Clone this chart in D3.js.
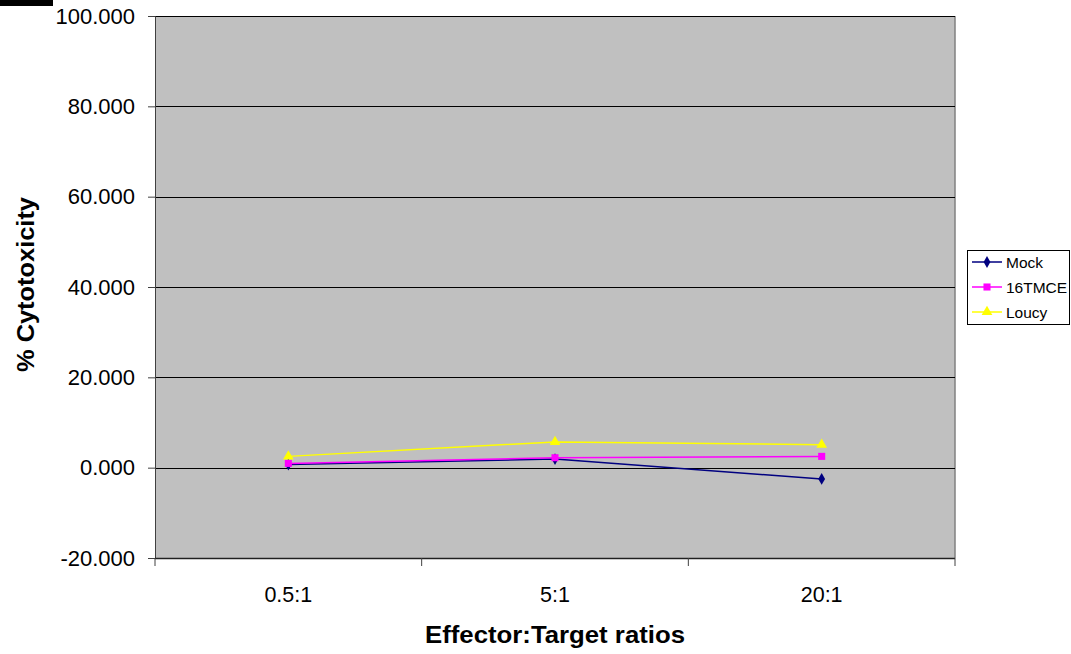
<!DOCTYPE html>
<html>
<head>
<meta charset="utf-8">
<script src="https://cdn.jsdelivr.net/npm/d3@7"></script>
<style>
  html, body { margin: 0; padding: 0; background: #fff; }
  svg { display: block; font-family: "Liberation Sans", Arial, sans-serif; }
</style>
</head>
<body>
<svg id="chart" width="1071" height="654"></svg>
<script>
// Cytotoxicity by effector:target ratio
const categories = ["0.5:1", "5:1", "20:1"];
const mock = [0.7, 1.9, -2.5];
const tmce = [0.95, 2.2, 2.5];
const loucy = [2.5, 5.7, 5.1];
const yTicks = [-20, 0, 20, 40, 60, 80, 100];

const series = [
  { name: "Mock", values: mock, color: "#000080", symbol: d3.symbolDiamond, size: 40 },
  { name: "16TMCE", values: tmce, color: "#ff00ff", symbol: d3.symbolSquare, size: 50 },
  { name: "Loucy", values: loucy, color: "#ffff00", symbol: d3.symbolTriangle, size: 50 }
];

const svg = d3.select("#chart");
const plot = { left: 155, right: 955, top: 16, bottom: 558 };

const x = d3.scaleBand().domain(categories).range([plot.left, plot.right]);
const y = d3.scaleLinear().domain([-20, 100]).range([plot.bottom, plot.top]);

// fixed three decimals, plain hyphen for negatives
const fmt = d => (d < 0 ? "-" : "") + Math.abs(d).toFixed(3);

// small black block in the top-left corner
svg.append("rect").attr("x", 0).attr("y", 0).attr("width", 53).attr("height", 6).attr("fill", "#000");

// plot background
svg.append("rect")
  .attr("x", plot.left).attr("y", plot.top)
  .attr("width", plot.right - plot.left).attr("height", plot.bottom - plot.top)
  .attr("fill", "#c0c0c0");

// right border of plot area
svg.append("line")
  .attr("x1", plot.right).attr("x2", plot.right)
  .attr("y1", plot.top).attr("y2", plot.bottom)
  .attr("stroke", "#808080").attr("stroke-width", 1.5);

// gridlines
svg.append("g").selectAll("line").data(yTicks.filter(d => d > -20)).join("line")
  .attr("x1", plot.left).attr("x2", plot.right)
  .attr("y1", d => Math.round(y(d)) + 0.5).attr("y2", d => Math.round(y(d)) + 0.5)
  .attr("stroke", "#000").attr("stroke-width", 1);

// y axis
const yAxis = svg.append("g")
  .attr("transform", `translate(${plot.left},0)`)
  .call(d3.axisLeft(y).tickValues(yTicks).tickFormat(fmt).tickSize(7).tickPadding(13));
yAxis.select(".domain").attr("stroke", "#404040");
yAxis.selectAll(".tick line").attr("stroke", "#404040");
yAxis.selectAll("text").attr("font-size", 22).attr("fill", "#000")
  .attr("font-family", "'Liberation Sans', Arial, sans-serif");

// x axis with ticks at category boundaries
const xAxisG = svg.append("g").attr("transform", `translate(0,${plot.bottom})`);
xAxisG.append("line")
  .attr("x1", plot.left).attr("x2", plot.right).attr("y1", 0.5).attr("y2", 0.5)
  .attr("stroke", "#202020").attr("stroke-width", 1.5);
const bounds = categories.map(c => x(c)).concat([x(categories[categories.length - 1]) + x.bandwidth()]);
xAxisG.selectAll("line.tk").data(bounds).join("line").attr("class", "tk")
  .attr("x1", d => d).attr("x2", d => d).attr("y1", 0).attr("y2", 8)
  .attr("stroke", "#404040");
xAxisG.selectAll("text").data(categories).join("text")
  .attr("x", d => x(d) + x.bandwidth() / 2).attr("y", 44)
  .attr("text-anchor", "middle").attr("font-size", 21.5).text(d => d);

// axis titles
svg.append("text")
  .attr("x", (plot.left + plot.right) / 2).attr("y", 643)
  .attr("text-anchor", "middle").attr("font-size", 23).attr("font-weight", "bold")
  .attr("textLength", 260).attr("lengthAdjust", "spacingAndGlyphs")
  .text("Effector:Target ratios");
svg.append("text")
  .attr("transform", `translate(34,${(197 + 372) / 2}) rotate(-90)`)
  .attr("text-anchor", "middle").attr("font-size", 23).attr("font-weight", "bold")
  .attr("textLength", 175).attr("lengthAdjust", "spacingAndGlyphs")
  .text("% Cytotoxicity");

// series lines and markers
const cx = c => x(c) + x.bandwidth() / 2;
const line = d3.line().x((d, i) => cx(categories[i])).y(d => y(d));
series.forEach(s => {
  svg.append("path").datum(s.values)
    .attr("d", line).attr("fill", "none")
    .attr("stroke", s.color).attr("stroke-width", 1.5);
  svg.append("g").selectAll("path").data(s.values).join("path")
    .attr("transform", (d, i) => `translate(${cx(categories[i])},${y(d)})`)
    .attr("d", d3.symbol().type(s.symbol).size(s.size))
    .attr("fill", s.color);
});

// legend
const lg = svg.append("g");
lg.append("rect").attr("x", 967.5).attr("y", 250.5).attr("width", 102).attr("height", 74)
  .attr("fill", "#fff").attr("stroke", "#000");
series.forEach((s, i) => {
  const yy = 262 + i * 25;
  lg.append("line").attr("x1", 972).attr("x2", 1002).attr("y1", yy).attr("y2", yy)
    .attr("stroke", s.color).attr("stroke-width", 1.5);
  lg.append("path").attr("transform", `translate(987,${yy})`)
    .attr("d", d3.symbol().type(s.symbol).size(s.size)).attr("fill", s.color);
  lg.append("text").attr("x", 1006).attr("y", yy + 5.5).attr("font-size", 15.5).text(s.name);
});
</script>
</body>
</html>
